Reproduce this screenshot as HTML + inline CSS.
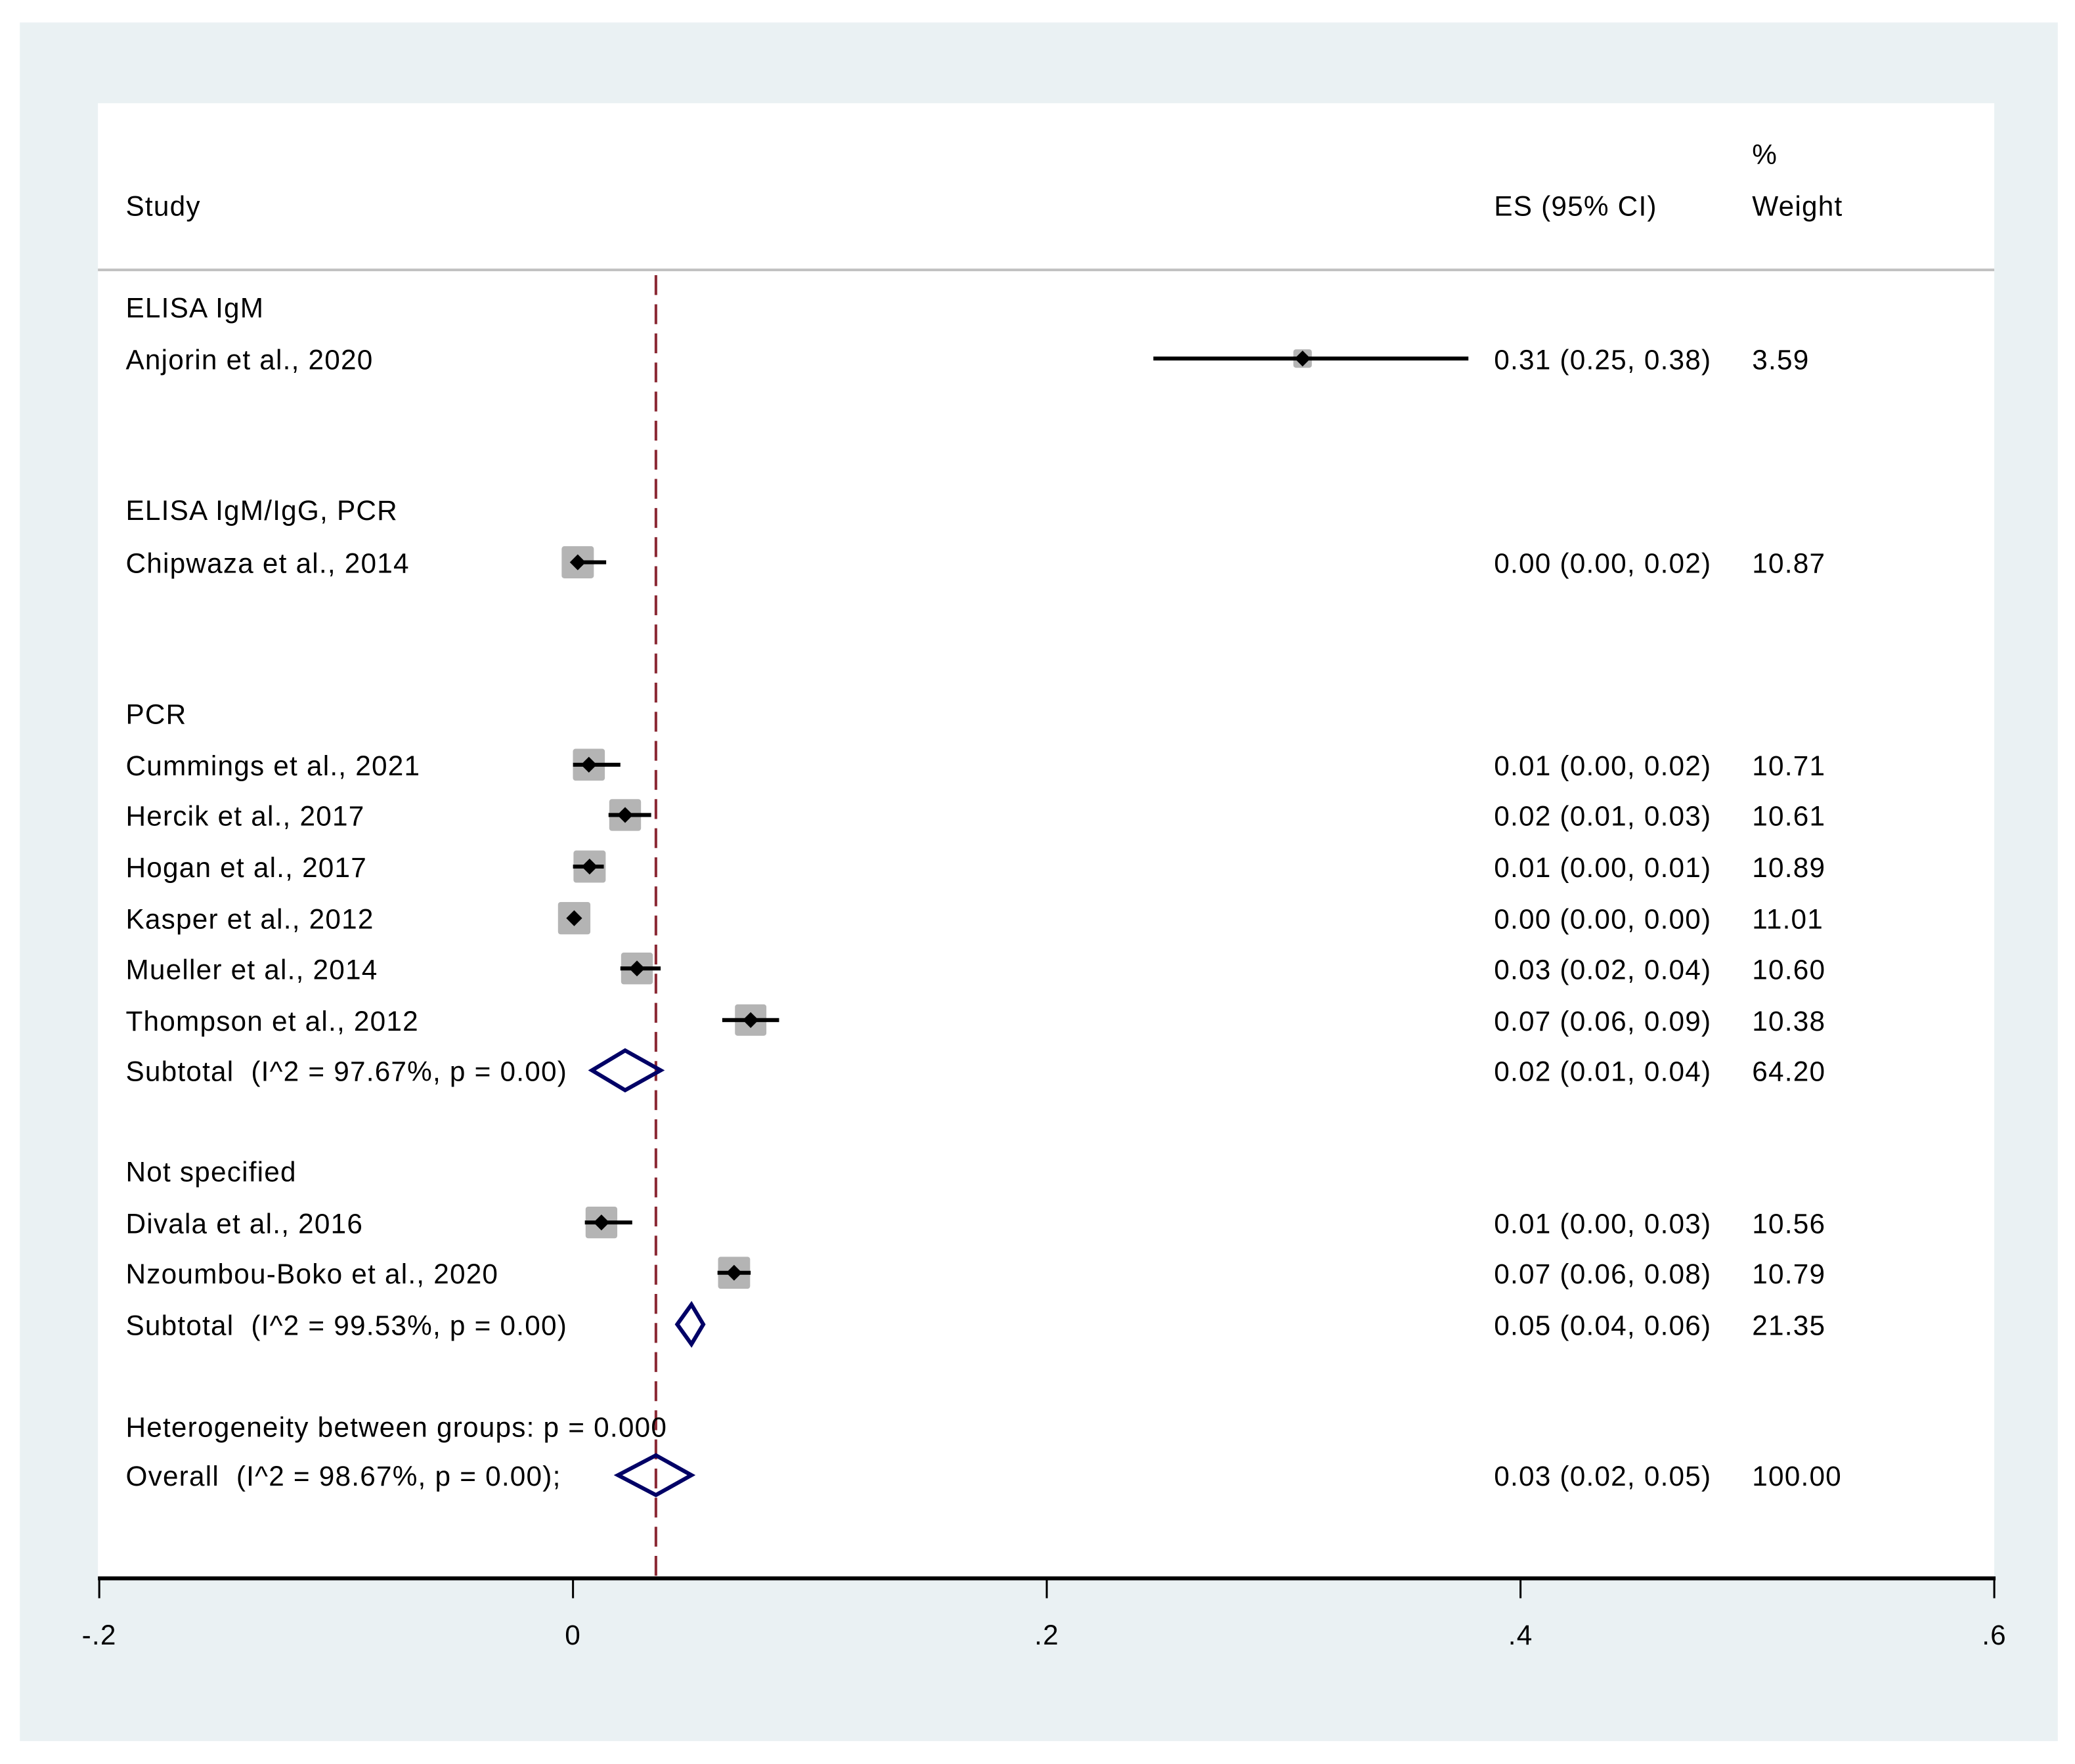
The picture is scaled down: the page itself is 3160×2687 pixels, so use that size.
<!DOCTYPE html>
<html><head><meta charset="utf-8"><style>
html,body{margin:0;padding:0;background:#fff;}
svg{display:block;}
text{font-family:"Liberation Sans",Arial,sans-serif;font-size:21px;fill:#000;letter-spacing:0.6px;white-space:pre;}
</style></head><body>
<svg id="chart" width="3160" height="2687" viewBox="0 0 1568 1333.3" xmlns="http://www.w3.org/2000/svg">
<rect x="15" y="17" width="1540" height="1299" fill="#eaf1f3"/>
<rect x="74" y="78" width="1433" height="1115" fill="#ffffff"/>
<line x1="74" y1="204" x2="1507" y2="204" stroke="#c0c0c0" stroke-width="2"/>
<text x="95" y="163">Study</text>
<text x="1129" y="163">ES (95% CI)</text>
<text x="1324" y="124">%</text>
<text x="1324" y="163">Weight</text>
<g id="marks"></g>
<g id="axis"></g>
</svg>
<script>
const rowLabels = ["ELISA IgM","Anjorin et al., 2020","ELISA IgM/IgG, PCR","Chipwaza et al., 2014","PCR","Cummings et al., 2021","Hercik et al., 2017","Hogan et al., 2017","Kasper et al., 2012","Mueller et al., 2014","Thompson et al., 2012","Subtotal  (I^2 = 97.67%, p = 0.00)","Not specified","Divala et al., 2016","Nzoumbou-Boko et al., 2020","Subtotal  (I^2 = 99.53%, p = 0.00)","Heterogeneity between groups: p = 0.000","Overall  (I^2 = 98.67%, p = 0.00);"];
const rowY = [232,271,385,425,539,578,616,655,694,732,771,809,885,924,962,1001,1078,1115];
const rowType = ["h","s","h","s","h","s","s","s","s","s","s","d","h","s","s","d","h","d"];
const esValues = [null,0.308,null,0.002,null,0.0067,0.022,0.007,0.0005,0.027,0.075,0.022,null,0.012,0.068,0.050,null,0.035];
const ciLow = [null,0.245,null,0.0,null,0.0,0.015,0.0,0.0,0.02,0.063,0.008,null,0.005,0.061,0.044,null,0.019];
const ciHigh = [null,0.378,null,0.014,null,0.02,0.033,0.013,0.001,0.037,0.087,0.037,null,0.025,0.075,0.055,null,0.050];
const weights = [null,3.59,null,10.87,null,10.71,10.61,10.89,11.01,10.60,10.38,64.20,null,10.56,10.79,21.35,null,100.00];
const esLabels = [null,"0.31 (0.25, 0.38)",null,"0.00 (0.00, 0.02)",null,"0.01 (0.00, 0.02)","0.02 (0.01, 0.03)","0.01 (0.00, 0.01)","0.00 (0.00, 0.00)","0.03 (0.02, 0.04)","0.07 (0.06, 0.09)","0.02 (0.01, 0.04)",null,"0.01 (0.00, 0.03)","0.07 (0.06, 0.08)","0.05 (0.04, 0.06)",null,"0.03 (0.02, 0.05)"];
const weightLabels = [null,"3.59",null,"10.87",null,"10.71","10.61","10.89","11.01","10.60","10.38","64.20",null,"10.56","10.79","21.35",null,"100.00"];
const overallEffect = 0.035;
const tickValues = [-0.2,0,0.2,0.4,0.6];
const tickLabels = ["-.2","0",".2",".4",".6"];

const NS="http://www.w3.org/2000/svg";
const X0=75,X1=1507,D0=-0.2,D1=0.6;
function xs(v){return X0+(v-D0)/(D1-D0)*(X1-X0);}
function mk(tag,attrs,parent){const e=document.createElementNS(NS,tag);for(const k in attrs)e.setAttribute(k,attrs[k]);parent.appendChild(e);return e;}
const marks=document.getElementById('marks');
const axis=document.getElementById('axis');

const ref=mk('line',{x1:xs(overallEffect),x2:xs(overallEffect),y1:208,y2:1193,stroke:'#8b2a35','stroke-width':2,'stroke-dasharray':'15 7'},marks);



for(let i=0;i<rowLabels.length;i++){
  const y=rowY[i];
  const t=mk('text',{x:95,y:y+8},marks);t.textContent=rowLabels[i];
  
  
  if(esLabels[i]){
    const e=mk('text',{x:1129,y:y+8},marks);e.textContent=esLabels[i];
    
    
    const w=mk('text',{x:1324,y:y+8},marks);w.textContent=weightLabels[i];
    
    
  }
  if(rowType[i]==='s'){
    const s=24*Math.sqrt(weights[i]/10.6);
    const cx=xs(esValues[i]);
    const b=mk('rect',{x:cx-s/2,y:y-s/2,width:s,height:s,rx:2,fill:'#b4b4b4'},marks);
    
    
    const l=mk('line',{x1:xs(ciLow[i]),x2:xs(ciHigh[i]),y1:y,y2:y,stroke:'#000','stroke-width':3},marks);
    
    
    const p=mk('polygon',{points:`${cx-6},${y} ${cx},${y-6} ${cx+6},${y} ${cx},${y+6}`,fill:'#000'},marks);
    
    
  } else if(rowType[i]==='d'){
    const h=15;
    const d=mk('polygon',{points:`${xs(ciLow[i])},${y} ${xs(esValues[i])},${y-h} ${xs(ciHigh[i])},${y} ${xs(esValues[i])},${y+h}`,fill:'none',stroke:'#000066','stroke-width':3},marks);
    
    
  }
}

const al=mk('line',{x1:X0-1,x2:X1+1,y1:1193,y2:1193,stroke:'#000','stroke-width':3},axis);


for(let i=0;i<tickValues.length;i++){
  const x=xs(tickValues[i]);
  const tk=mk('line',{x1:x,x2:x,y1:1193,y2:1208,stroke:'#000','stroke-width':1.5},axis);
  
  
  const tl=mk('text',{x:x,y:1243,'text-anchor':'middle'},axis);tl.textContent=tickLabels[i];
  
  
}
</script>
</body></html>
